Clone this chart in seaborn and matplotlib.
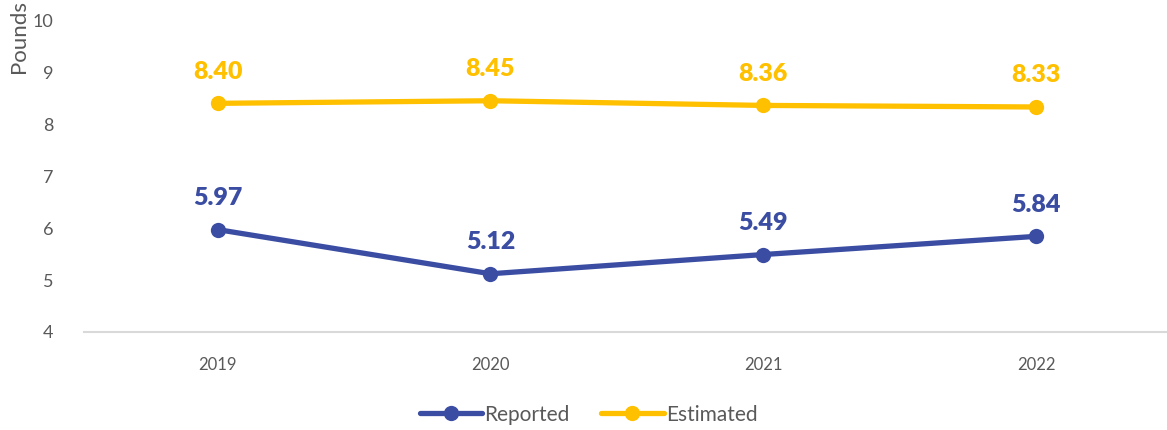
import matplotlib
matplotlib.use("Agg")
import matplotlib.pyplot as plt
import seaborn as sns
import pandas as pd

years = ["2019", "2020", "2021", "2022"]
reported = [5.97, 5.12, 5.49, 5.84]
estimated = [8.40, 8.45, 8.36, 8.33]
series_names = ["Reported", "Estimated"]
colors = {"Reported": "#3A4DA3", "Estimated": "#FFC000"}

sns.set_theme(style="white")
plt.rcParams['font.family'] = ['Lato', 'DejaVu Sans']

df = pd.DataFrame({
    "Year": years * 2,
    "Pounds": reported + estimated,
    "Series": [series_names[0]] * 4 + [series_names[1]] * 4,
})

fig = plt.figure(figsize=(11.67, 4.30), dpi=100)
ax = fig.add_axes([0.072, 0.228, 0.928, 0.725])

sns.lineplot(data=df, x="Year", y="Pounds", hue="Series", palette=colors,
             marker="o", markersize=11, linewidth=3.8, markeredgewidth=0,
             ax=ax, sort=False)

for name, vals in zip(series_names, [reported, estimated]):
    for i, v in enumerate(vals):
        ax.annotate(f"{v:.2f}", (i, v), xytext=(0, 15), textcoords="offset points",
                    ha="center", va="bottom", fontsize=18, fontweight="heavy",
                    color=colors[name])

ax.set_ylim(4, 10)
ax.set_xlim(-0.49, 3.48)
ax.set_yticks(range(4, 11))
ax.set_xlabel("")
ax.set_ylabel("")
for s in ["top", "right", "left"]:
    ax.spines[s].set_visible(False)
ax.spines["bottom"].set_color("#D9D9D9")
ax.spines["bottom"].set_linewidth(1.5)
ax.tick_params(axis="y", labelsize=13, labelcolor="#595959", length=0, pad=22)
ax.tick_params(axis="x", labelsize=12, labelcolor="#595959", length=0, pad=18)

fig.text(0.016, 1.0, "Pounds", rotation=90, ha="center", va="top",
         fontsize=16, color="#595959")

handles, labels = ax.get_legend_handles_labels()
ax.legend(handles, labels, loc="center", bbox_to_anchor=(0.466, -0.265),
          ncol=2, frameon=False, fontsize=15, labelcolor="#595959",
          handlelength=3, handletextpad=0.1, columnspacing=1.5)

fig.savefig("out.png", dpi=100)
